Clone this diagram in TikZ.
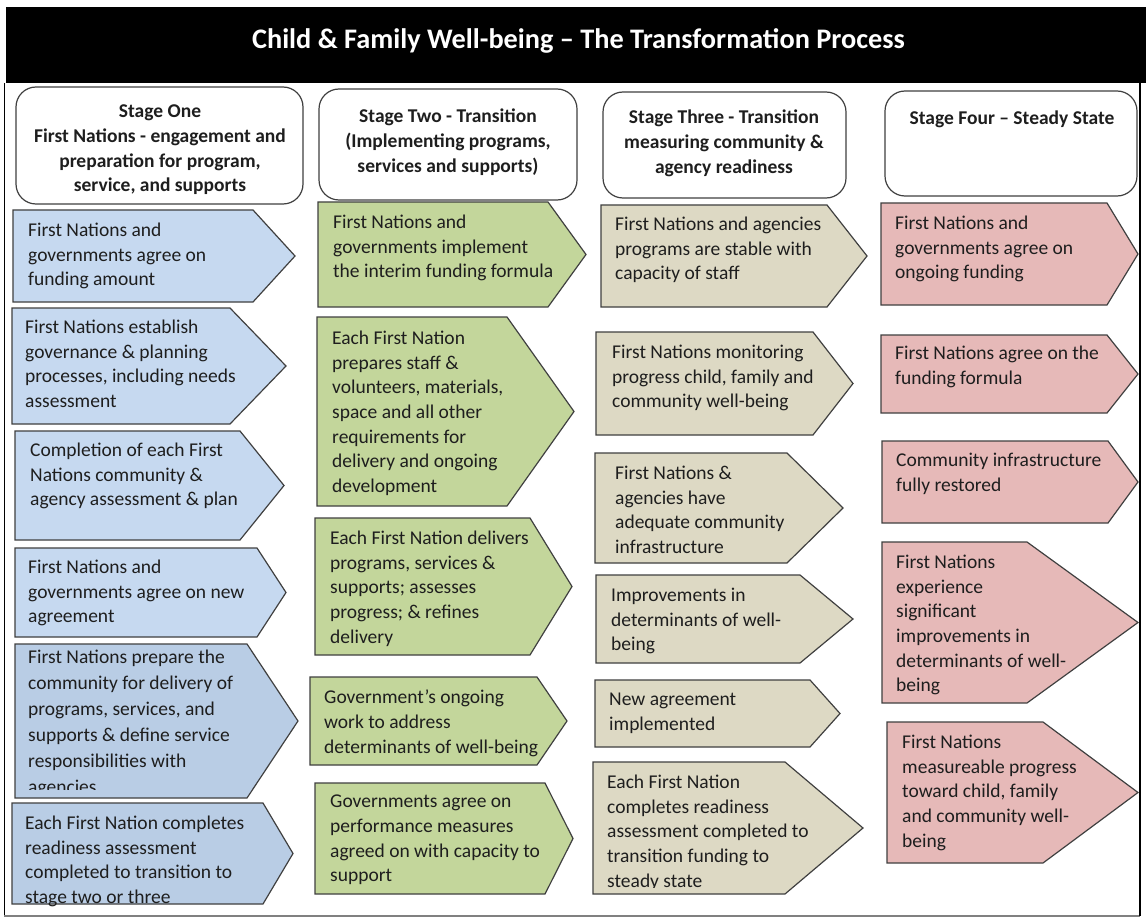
\documentclass[tikz,border=0pt]{standalone}
\usepackage{fontspec}
\setmainfont{Carlito}
\definecolor{blueA}{RGB}{198,217,240}
\definecolor{blueB}{RGB}{185,205,229}
\definecolor{greenC}{RGB}{195,214,155}
\definecolor{tanC}{RGB}{221,217,196}
\definecolor{pinkC}{RGB}{230,185,184}
\definecolor{bordergray}{RGB}{64,64,64}
\definecolor{textdark}{RGB}{30,30,30}
\tikzset{
  chevline/.style={draw=bordergray, line width=1.2pt, line join=miter},
  bodytext/.style={anchor=north west, inner sep=0pt, align=left, text=textdark, yshift=1pt,
    font=\fontsize{19.5}{24.6}\selectfont},
  headtext/.style={anchor=north, inner sep=0pt, align=center, text=textdark, yshift=1pt,
    font=\bfseries\fontsize{19.5}{24.6}\selectfont},
  headbox/.style={draw=bordergray, line width=1.2pt, rounded corners=20pt, fill=white},
}
\newcommand\clipbot{2000}
% #1 fill, #2 name, #3 left x, #4 top y, #5 bottom y, #6 corner x, #7 tip x, #8 text pos, #9 text
\newcommand\chev[9]{%
  \path[chevline,#1] (#3,#4) -- (#6,#4) -- (#7,{(#4+#5)/2}) -- (#6,#5) -- (#3,#5) -- cycle;
  \begin{scope}
    \clip (#3,#4) rectangle (#7,\clipbot);
    \node[bodytext] (#2) at (#8) {#9};
  \end{scope}
}
\begin{document}
\begin{tikzpicture}[x=1pt,y=-1pt]
\useasboundingbox (0,0) rectangle (1146,920);
\fill[white] (0,0) rectangle (1146,920);
% title bar
\fill[black] (6,7) rectangle (1146,83);
\node[font=\bfseries\fontsize{28.3}{34}\selectfont, text=white, anchor=base, inner sep=0pt] (title) at (578.5,49)
  {Child \& Family Well-being – The Transformation Process};
% frame
\draw[black, line width=1pt] (4,83) -- (4,916);
\draw[gray, line width=2pt] (4,916) -- (1140,916);
\draw[black, line width=2pt] (1140,83) -- (1140,916);
% stage headers
\draw[headbox] (16,87) rectangle (303,204);
\node[headtext] (h1) at (160,106) {Stage One\\First Nations - engagement and\\preparation for program,\\service, and supports};
\draw[headbox] (319,89) rectangle (577,200);
\node[headtext] (h2) at (448,110) {Stage Two - Transition\\(Implementing programs,\\services and supports)};
\draw[headbox] (603,92) rectangle (846,198);
\node[headtext] (h3) at (724,111) {Stage Three - Transition\\measuring community \&\\agency readiness};
\draw[headbox] (885,91) rectangle (1137,196);
\node[headtext] (h4) at (1012,112) {Stage Four – Steady State};
% column 1
\chev{fill=blueA}{b1}{13}{210}{302}{253}{295}{28,224}{First Nations and\\governments agree on\\funding amount}
\chev{fill=blueA}{b2}{12}{308}{424}{230}{286}{25,321}{First Nations establish\\governance \& planning\\processes, including needs\\assessment}
\chev{fill=blueA}{b3}{15}{431}{540}{240}{284}{30,444}{Completion of each First\\Nations community \&\\agency assessment \& plan}
\chev{fill=blueA}{b4}{15}{548}{637}{257}{286}{28,561}{First Nations and\\governments agree on new\\agreement}
\begin{scope}
\renewcommand\clipbot{789}
\chev{fill=blueB}{b5}{15}{644}{798}{247}{298}{28,651}{First Nations prepare the\\[1.4pt]community for delivery of\\[1.4pt]programs, services, and\\[1.4pt]supports \& define service\\[1.4pt]responsibilities with\\[1.4pt]agencies}
\end{scope}
\chev{fill=blueB}{b6}{12}{803}{904}{263}{293}{25,817}{Each First Nation completes\\readiness assessment\\completed to transition to\\stage two or three}
% column 2
\chev{fill=greenC}{g1}{318}{202}{307}{548}{586}{333,216}{First Nations and\\governments implement\\the interim funding formula}
\chev{fill=greenC}{g2}{317}{317}{506}{507}{574}{332,332}{Each First Nation\\prepares staff \&\\volunteers, materials,\\space and all other\\requirements for\\delivery and ongoing\\development}
\chev{fill=greenC}{g3}{315}{518}{655}{530}{572}{330,532}{Each First Nation delivers\\programs, services \&\\supports; assesses\\progress; \& refines\\delivery}
\chev{fill=greenC}{g4}{310}{677}{765}{537}{567}{324,691}{Government’s ongoing\\work to address\\determinants of well-being}
\chev{fill=greenC}{g5}{315}{783}{894}{545}{573}{330,796}{Governments agree on\\performance measures\\agreed on with capacity to\\support}
% column 3
\chev{fill=tanC}{t1}{601}{205}{307}{827}{867}{615,218}{First Nations and agencies\\programs are stable with\\capacity of staff}
\chev{fill=tanC}{t2}{596}{332}{435}{813}{853}{612,346}{First Nations monitoring\\progress child, family and\\community well-being}
\chev{fill=tanC}{t3}{595}{453}{563}{787}{843}{615,467}{First Nations \&\\agencies have\\adequate community\\infrastructure}
\chev{fill=tanC}{t4}{596}{575}{663}{800}{853}{611,589}{Improvements in\\determinants of well-\\being}
\chev{fill=tanC}{t5}{595}{680}{747}{810}{840}{609,694}{New agreement\\implemented}
\begin{scope}
\renewcommand\clipbot{887}
\chev{fill=tanC}{t6}{593}{762}{894}{785}{863}{607,776}{Each First Nation\\completes readiness\\assessment completed to\\transition funding to\\steady state}
\end{scope}
% column 4
\chev{fill=pinkC}{p1}{881}{203}{305}{1107}{1138}{895,217}{First Nations and\\governments agree on\\ongoing funding}
\chev{fill=pinkC}{p2}{881}{335}{413}{1107}{1138}{895,347}{First Nations agree on the\\funding formula}
\chev{fill=pinkC}{p3}{882}{441}{523}{1108}{1138}{896,454}{Community infrastructure\\fully restored}
\chev{fill=pinkC}{p4}{882}{542}{703}{1027}{1138}{896,556}{First Nations\\experience\\significant\\improvements in\\determinants of well-\\being}
\chev{fill=pinkC}{p5}{887}{722}{863}{1043}{1138}{902,736}{First Nations\\measureable progress\\toward child, family\\and community well-\\being}
\end{tikzpicture}
\end{document}
